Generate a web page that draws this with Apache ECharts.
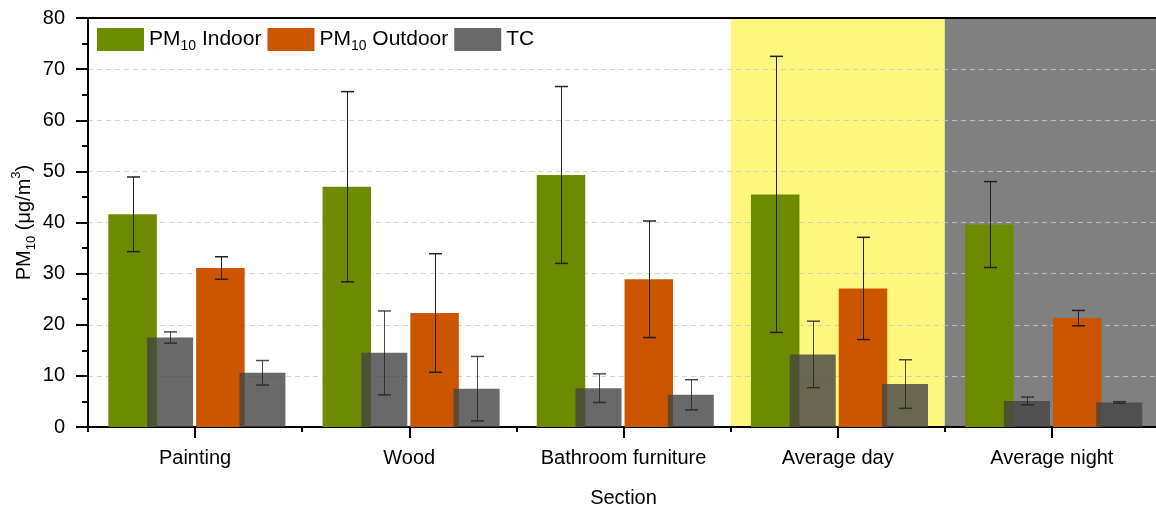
<!DOCTYPE html>
<html>
<head>
<meta charset="utf-8">
<title>PM10 by section</title>
<script src="https://cdn.jsdelivr.net/npm/echarts@6/dist/echarts.min.js"></script>
<style>
  html, body { margin: 0; padding: 0; background: #fff; }
  #chart { width: 1156px; height: 511px; }
</style>
</head>
<body>
<div id="chart"></div>
<script>
// ---- data ----
const categories = ['Painting', 'Wood', 'Bathroom furniture', 'Average day', 'Average night'];
const indoor      = [41.6, 47.0, 49.3, 45.5, 39.6];
const indoorErr   = [7.3, 18.6, 17.3, 27.0, 8.4];
const outdoor     = [31.1, 22.3, 28.9, 27.1, 21.3];
const outdoorErr  = [2.2, 11.6, 11.4, 10.0, 1.5];
const tcIndoor    = [17.5, 14.5, 7.6, 14.2, 5.1];
const tcIndoorErr = [1.1, 8.2, 2.8, 6.5, 0.75];
const tcOutdoor   = [10.6, 7.5, 6.3, 8.4, 4.8];
const tcOutdoorErr = [2.4, 6.3, 2.95, 4.75, 0.15];
const shadedSections = ['Average day', 'Average night'];
const yTicks = { min: 0, max: 80, interval: 10 };

// ---- styles ----
const FONT = "'Liberation Sans', Arial, sans-serif";
const GREEN = '#6E8B00';
const ORANGE = '#CC5500';
const TC_GRAY = 'rgba(68,68,68,0.8)';
const SHADE_COLORS = ['#FFF680', '#808080'];

// Bar columns within each category band. Thin empty columns act as spacers
// so the indoor/outdoor pair and the TC pair sit at their own offsets.
const MAIN_COLS = { gap: 0.8103, widths: [1.7, 48.5, 48.5, 0.01] };
const TC_COLS   = { gap: 1.0065, widths: [21.1, 46, 46] };

// Same column arithmetic as the bar layout: returns each column's centre offset
function columnCenters(cols) {
  const { widths, gap } = cols;
  let sum = 0;
  widths.forEach(w => { sum += w * (1 + gap); });
  sum -= widths[widths.length - 1] * gap;
  let off = -sum / 2;
  return widths.map(w => { const c = off + w / 2; off += w * (1 + gap); return c; });
}
const mainCenters = columnCenters(MAIN_COLS);
const tcCenters = columnCenters(TC_COLS);

function richText(size) {
  return {
    sub: { fontSize: size, fontFamily: FONT, color: '#000', lineHeight: 28, verticalAlign: 'bottom' },
    sup: { fontSize: size, fontFamily: FONT, color: '#000', lineHeight: 28, verticalAlign: 'top' }
  };
}

const empty = categories.map(() => null);

function spacer(width, axis) {
  return {
    type: 'bar', name: 'spacer' + axis + width, xAxisIndex: axis, barWidth: width,
    barGap: (axis === 0 ? MAIN_COLS.gap : TC_COLS.gap) * 100 + '%',
    data: empty, silent: true
  };
}

function bar(name, values, width, color, axis) {
  return {
    type: 'bar', name: name, xAxisIndex: axis, barWidth: width,
    barGap: (axis === 0 ? MAIN_COLS.gap : TC_COLS.gap) * 100 + '%',
    itemStyle: { color: color },
    data: values
  };
}

function errorBars(values, errs, offset, axis, color) {
  return {
    type: 'custom', xAxisIndex: axis, z: 5, silent: true,
    data: categories.map((c, i) => [c, values[i], errs[i]]),
    renderItem: function (params, api) {
      const idx = api.value(0);
      const v = api.value(1), e = api.value(2);
      const top = api.coord([idx, v + e]);
      const bot = api.coord([idx, v - e]);
      const x = Math.round(top[0] + offset) + 0.5;
      const hw = 6.5;
      return {
        type: 'group',
        children: [
          { type: 'line', shape: { x1: x, y1: top[1], x2: x, y2: bot[1] }, style: { stroke: color, lineWidth: 1 } },
          { type: 'line', shape: { x1: x - hw, y1: top[1], x2: x + hw, y2: top[1] }, style: { stroke: color, lineWidth: 1.5 } },
          { type: 'line', shape: { x1: x - hw, y1: bot[1], x2: x + hw, y2: bot[1] }, style: { stroke: color, lineWidth: 1.5 } }
        ]
      };
    }
  };
}

const shadeSeries = {
  type: 'custom', xAxisIndex: 0, z: -1, silent: true,
  data: shadedSections.map((c, i) => [c, i]),
  renderItem: function (params, api) {
    const c = api.coord([api.value(0), 0]);
    const bw = api.size([1, 0])[0];
    const cs = params.coordSys;
    return {
      type: 'rect',
      shape: { x: c[0] - bw / 2, y: cs.y, width: bw + 2, height: cs.height },
      style: { fill: SHADE_COLORS[api.value(1)] }
    };
  }
};

const chart = echarts.init(document.getElementById('chart'), null, { renderer: 'canvas' });

chart.setOption({
  animation: false,
  textStyle: { fontFamily: FONT },
  grid: {
    left: 88, right: -3, top: 18, bottom: 84,
    outerBoundsMode: 'none', containLabel: false,
    show: true, borderColor: '#000', borderWidth: 2, backgroundColor: 'transparent'
  },
  legend: {
    left: 97, top: 28, padding: 0,
    itemWidth: 47, itemHeight: 23, itemGap: 6,
    icon: 'rect', selectedMode: false,
    data: ['PM10 Indoor', 'PM10 Outdoor', 'TC'],
    formatter: name => name.replace('PM10', 'PM{sub|10}'),
    textStyle: { fontSize: 21, fontFamily: FONT, color: '#000', rich: richText(14) }
  },
  xAxis: [
    {
      type: 'category', data: categories, position: 'bottom',
      name: 'Section', nameLocation: 'middle', nameGap: 61, nameMoveOverlap: false,
      nameTextStyle: { fontSize: 20, fontFamily: FONT, color: '#000' },
      axisLine: { show: true, lineStyle: { color: '#000', width: 2 } },
      axisTick: { show: true, alignWithLabel: true, interval: 0, length: 11, lineStyle: { color: '#000', width: 2 } },
      axisLabel: { interval: 0, fontSize: 20, fontFamily: FONT, color: '#000', margin: 21 },
      splitLine: { show: false }
    },
    {
      type: 'category', data: categories, position: 'bottom',
      axisLine: { show: false },
      axisTick: { show: true, interval: 0, length: 5, lineStyle: { color: '#000', width: 2 } },
      axisLabel: { show: false },
      splitLine: { show: false }
    }
  ],
  yAxis: {
    type: 'value', min: yTicks.min, max: yTicks.max, interval: yTicks.interval,
    name: 'PM{sub|10} (μg/m{sup|3})', nameLocation: 'middle', nameGap: 50, nameMoveOverlap: false,
    nameTextStyle: { fontSize: 20, fontFamily: FONT, color: '#000', rich: richText(13) },
    axisLine: { show: true, lineStyle: { color: '#000', width: 2 } },
    axisTick: { show: true, length: 12, lineStyle: { color: '#000', width: 2 } },
    minorTick: { show: true, splitNumber: 2, length: 6, lineStyle: { color: '#000', width: 2 } },
    axisLabel: { fontSize: 20, fontFamily: FONT, color: '#000', margin: 23 },
    splitLine: {
      show: true, showMinLine: false, showMaxLine: false,
      lineStyle: { color: 'rgba(200,200,200,0.8)', width: 1, type: [5, 4] }
    }
  },
  series: [
    shadeSeries,
    spacer(MAIN_COLS.widths[0], 0),
    bar('PM10 Indoor', indoor, MAIN_COLS.widths[1], GREEN, 0),
    bar('PM10 Outdoor', outdoor, MAIN_COLS.widths[2], ORANGE, 0),
    spacer(MAIN_COLS.widths[3], 0),
    spacer(TC_COLS.widths[0], 1),
    bar('TC', tcIndoor, TC_COLS.widths[1], TC_GRAY, 1),
    bar('TC', tcOutdoor, TC_COLS.widths[2], TC_GRAY, 1),
    errorBars(indoor, indoorErr, mainCenters[1], 0, '#222'),
    errorBars(outdoor, outdoorErr, mainCenters[2], 0, '#222'),
    errorBars(tcIndoor, tcIndoorErr, tcCenters[1], 1, 'rgba(34,34,34,0.8)'),
    errorBars(tcOutdoor, tcOutdoorErr, tcCenters[2], 1, 'rgba(34,34,34,0.8)')
  ]
});
</script>
</body>
</html>
